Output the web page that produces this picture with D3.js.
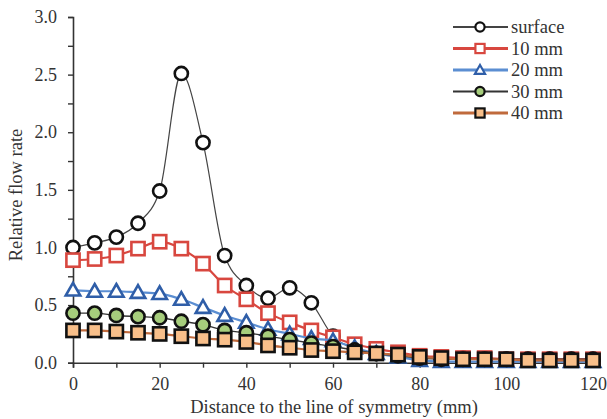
<!DOCTYPE html>
<html>
<head>
<meta charset="utf-8">
<title>Relative flow rate</title>
<script src="https://d3js.org/d3.v7.min.js"></script>
<style>
    body { margin: 0; background: #fff; }
    text { font-family: "Liberation Serif", "DejaVu Serif", serif; fill: #333; }
</style>
</head>
<body>
<div id="chart"></div>
<script>
// distance to the line of symmetry (mm)
var distance = [0, 5, 10, 15, 20, 25, 30, 35, 40, 45, 50, 55, 60, 65, 70, 75, 80, 85, 90, 95, 100, 105, 110, 115, 120];

var surface = [1.00, 1.04, 1.09, 1.21, 1.49, 2.51, 1.91, 0.93, 0.67, 0.56, 0.65, 0.52, 0.23, 0.12, 0.08, 0.06, 0.05, 0.04, 0.04, 0.03, 0.03, 0.03, 0.03, 0.03, 0.03];
var mm10 = [0.89, 0.90, 0.93, 0.99, 1.05, 0.99, 0.86, 0.67, 0.55, 0.43, 0.35, 0.28, 0.22, 0.16, 0.12, 0.09, 0.06, 0.05, 0.04, 0.04, 0.03, 0.03, 0.03, 0.03, 0.03];
var mm20 = [0.63, 0.62, 0.62, 0.61, 0.60, 0.55, 0.48, 0.41, 0.35, 0.29, 0.25, 0.21, 0.19, 0.13, 0.08, 0.05, 0.02, 0.01, 0.01, 0.01, 0.01, 0.01, 0.01, 0.01, 0.01];
var mm30 = [0.43, 0.43, 0.41, 0.40, 0.39, 0.36, 0.33, 0.28, 0.26, 0.23, 0.20, 0.17, 0.14, 0.11, 0.08, 0.06, 0.04, 0.03, 0.03, 0.03, 0.03, 0.03, 0.03, 0.03, 0.03];
var mm40 = [0.28, 0.28, 0.27, 0.26, 0.25, 0.23, 0.21, 0.20, 0.18, 0.15, 0.13, 0.11, 0.10, 0.09, 0.08, 0.07, 0.05, 0.04, 0.03, 0.03, 0.03, 0.02, 0.02, 0.02, 0.02];

var seriesNames = ["surface", "10 mm", "20 mm", "30 mm", "40 mm"];
var xTickLabels = [0, 20, 40, 60, 80, 100, 120];
var yTickLabels = [0.0, 0.5, 1.0, 1.5, 2.0, 2.5, 3.0];

// look of each series
var styles = [
    { values: surface, shape: "circle",   line: "#444",    lineW: 1.2, stroke: "#111",    fill: "#fff" },
    { values: mm10,    shape: "square",   line: "#d8473f", lineW: 2.2, stroke: "#d8473f", fill: "#fff" },
    { values: mm20,    shape: "triangle", line: "#5b8ed2", lineW: 2.2, stroke: "#2f5ea8", fill: "#fff" },
    { values: mm30,    shape: "circle",   line: "#333",    lineW: 1.4, stroke: "#111",    fill: "#a6cd7c" },
    { values: mm40,    shape: "square",   line: "#c06a3c", lineW: 2.2, stroke: "#111",    fill: "#f8bf8a" }
];

var width = 607, height = 419;
var margin = { top: 17, right: 14, bottom: 56, left: 73 };

var svg = d3.select("#chart").append("svg")
    .attr("width", width)
    .attr("height", height);

var x = d3.scaleLinear().domain([0, 120]).range([margin.left, width - margin.right]);
var y = d3.scaleLinear().domain([0, 3]).range([height - margin.bottom - 0.3, margin.top]);

// axes
var xAxis = svg.append("g")
    .attr("transform", "translate(0," + y(0) + ")")
    .call(d3.axisBottom(x).tickValues(d3.range(0, 121, 10)).tickSize(5)
        .tickFormat(function (d) { return xTickLabels.indexOf(d) >= 0 ? d : ""; }));
xAxis.selectAll("text").attr("dy", "1.05em").style("font-size", "18px");

var yAxis = svg.append("g")
    .attr("transform", "translate(" + x(0) + ",0)")
    .call(d3.axisLeft(y).tickValues(d3.range(0, 3.01, 0.25)).tickSize(5)
        .tickFormat(function (d) {
            var hit = yTickLabels.filter(function (t) { return Math.abs(t - d) < 1e-6; });
            return hit.length ? d3.format(".1f")(d) : "";
        }));
yAxis.selectAll("text").attr("dx", "-0.45em").style("font-size", "18px");

svg.selectAll(".domain").attr("stroke", "#333").attr("stroke-width", 1.6);
svg.selectAll(".tick line").attr("stroke", "#333").attr("stroke-width", 1.4);

// axis titles
svg.append("text")
    .attr("x", 334).attr("y", 413)
    .attr("text-anchor", "middle")
    .style("font-size", "18.5px")
    .text("Distance to the line  of symmetry (mm)");

svg.append("text")
    .attr("transform", "translate(22," + 195 + ")rotate(-90)")
    .attr("text-anchor", "middle")
    .style("font-size", "18.5px")
    .text("Relative flow rate");

// markers
function drawMarker(g, shape, cx, cy, r, s, sw) {
    if (shape === "circle") {
        g.append("circle").attr("cx", cx).attr("cy", cy).attr("r", r)
            .attr("fill", s.fill).attr("stroke", s.stroke).attr("stroke-width", sw);
    } else if (shape === "square") {
        g.append("rect").attr("x", cx - r).attr("y", cy - r)
            .attr("width", r * 2).attr("height", r * 2)
            .attr("fill", s.fill).attr("stroke", s.stroke).attr("stroke-width", sw);
    } else {
        var h = r * 1.1;
        g.append("path")
            .attr("d", "M" + cx + "," + (cy - h) + "L" + (cx + r * 1.1) + "," + (cy + h * 0.75) + "L" + (cx - r * 1.1) + "," + (cy + h * 0.75) + "Z")
            .attr("fill", s.fill).attr("stroke", s.stroke).attr("stroke-width", sw);
    }
}

var line = d3.line()
    .x(function (d, i) { return x(distance[i]); })
    .y(function (d) { return y(d); })
    .curve(d3.curveMonotoneX);

styles.forEach(function (s) {
    var g = svg.append("g");
    g.append("path")
        .datum(s.values)
        .attr("d", line)
        .attr("fill", "none")
        .attr("stroke", s.line)
        .attr("stroke-width", s.lineW);
    s.values.forEach(function (v, i) {
        drawMarker(g, s.shape, x(distance[i]), y(v), 6.6, s, 2.6);
    });
});

// legend
var legend = svg.append("g");
seriesNames.forEach(function (name, i) {
    var s = styles[i];
    var ly = 27 + i * 21.5;
    legend.append("line")
        .attr("x1", 453).attr("x2", 508).attr("y1", ly).attr("y2", ly)
        .attr("stroke", s.line).attr("stroke-width", s.lineW + 0.6);
    drawMarker(legend, s.shape, 480, ly, 4.6, s, 2.2);
    legend.append("text")
        .attr("x", 511).attr("y", ly + 6)
        .style("font-size", "18.5px")
        .text(name);
});
</script>
</body>
</html>
